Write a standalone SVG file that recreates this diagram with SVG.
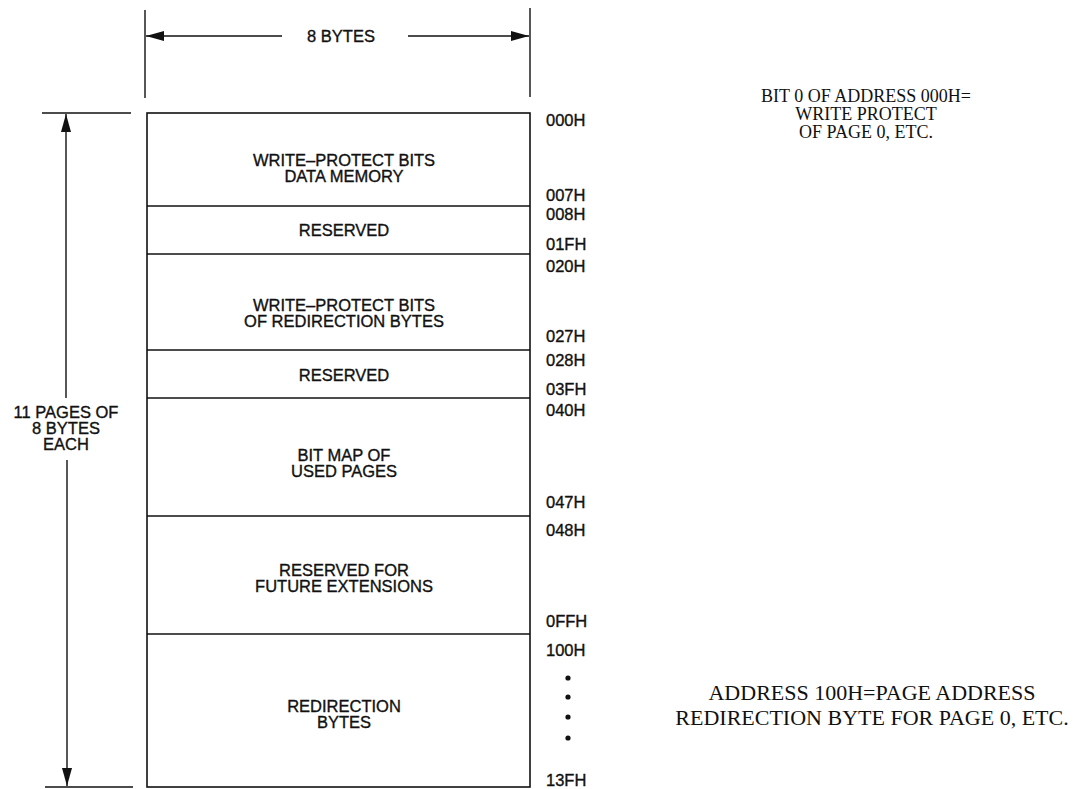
<svg xmlns="http://www.w3.org/2000/svg" width="1089" height="789" viewBox="0 0 1089 789">
<defs>
<style>
.t{font-family:"Liberation Sans",Arial,sans-serif;font-size:16.5px;fill:#111;stroke:#111;stroke-width:0.35;text-anchor:middle}
.a{font-family:"Liberation Sans",Arial,sans-serif;font-size:16.5px;fill:#111;stroke:#111;stroke-width:0.35}
.n{font-family:"Liberation Serif","Times New Roman",serif;fill:#111;text-anchor:middle}
.ln{stroke:#111;stroke-width:1.6;fill:none}
.dim{stroke:#111;stroke-width:1.4;fill:none}
</style>
<marker id="ah" viewBox="0 0 18 10" refX="18" refY="5" markerWidth="18" markerHeight="10" markerUnits="userSpaceOnUse" orient="auto">
<path d="M0,0 L18,5 L0,10 Z" fill="#111"/>
</marker>
</defs>
<rect width="1089" height="789" fill="#fff"/>
<g id="connectors">
<line class="dim" x1="145" y1="10" x2="145" y2="98"/>
<line class="dim" x1="530" y1="8" x2="530" y2="97"/>
<line class="dim" x1="282" y1="36" x2="146" y2="36" marker-end="url(#ah)"/>
<line class="dim" x1="408" y1="36" x2="529" y2="36" marker-end="url(#ah)"/>
<line class="dim" x1="42" y1="113" x2="131" y2="113"/>
<line class="dim" x1="45" y1="787" x2="133" y2="787"/>
<line class="dim" x1="66" y1="398" x2="66" y2="114" marker-end="url(#ah)"/>
<line class="dim" x1="67" y1="460" x2="67" y2="786" marker-end="url(#ah)"/>
</g>
<g id="dim-width-label"><text class="t" x="341" y="42">8 BYTES</text></g>
<g id="dim-height-label">
<text class="t" x="66" y="418">11 PAGES OF</text>
<text class="t" x="66" y="434">8 BYTES</text>
<text class="t" x="66" y="450">EACH</text>
</g>
<g id="memory-map">
<rect class="ln" x="147" y="113" width="383" height="674"/>
<line class="ln" x1="147" y1="206" x2="530" y2="206"/>
<line class="ln" x1="147" y1="254" x2="530" y2="254"/>
<line class="ln" x1="147" y1="350" x2="530" y2="350"/>
<line class="ln" x1="147" y1="398" x2="530" y2="398"/>
<line class="ln" x1="147" y1="516" x2="530" y2="516"/>
<line class="ln" x1="147" y1="634" x2="530" y2="634"/>
</g>
<g id="block-wp-data">
<text class="t" x="344" y="166">WRITE–PROTECT BITS</text>
<text class="t" x="344" y="182">DATA MEMORY</text>
</g>
<g id="block-reserved-1"><text class="t" x="344" y="236">RESERVED</text></g>
<g id="block-wp-redir">
<text class="t" x="344" y="311">WRITE–PROTECT BITS</text>
<text class="t" x="344" y="327">OF REDIRECTION BYTES</text>
</g>
<g id="block-reserved-2"><text class="t" x="344" y="381">RESERVED</text></g>
<g id="block-bitmap">
<text class="t" x="344" y="461">BIT MAP OF</text>
<text class="t" x="344" y="477">USED PAGES</text>
</g>
<g id="block-future">
<text class="t" x="344" y="576">RESERVED FOR</text>
<text class="t" x="344" y="592">FUTURE EXTENSIONS</text>
</g>
<g id="block-redir">
<text class="t" x="344" y="712">REDIRECTION</text>
<text class="t" x="344" y="728">BYTES</text>
</g>
<g id="addresses">
<text class="a" x="546" y="126">000H</text>
<text class="a" x="546" y="201">007H</text>
<text class="a" x="546" y="220">008H</text>
<text class="a" x="546" y="250">01FH</text>
<text class="a" x="546" y="272">020H</text>
<text class="a" x="546" y="342">027H</text>
<text class="a" x="546" y="366">028H</text>
<text class="a" x="546" y="395">03FH</text>
<text class="a" x="546" y="416">040H</text>
<text class="a" x="546" y="508">047H</text>
<text class="a" x="546" y="536">048H</text>
<text class="a" x="546" y="627">0FFH</text>
<text class="a" x="546" y="656">100H</text>
<text class="a" x="546" y="786">13FH</text>
<circle cx="568" cy="678" r="2.6" fill="#111"/>
<circle cx="568" cy="697" r="2.6" fill="#111"/>
<circle cx="568" cy="717" r="2.6" fill="#111"/>
<circle cx="568" cy="738" r="2.6" fill="#111"/>
</g>
<g id="note-top">
<text class="n" x="866" y="102" font-size="18">BIT 0 OF ADDRESS 000H=</text>
<text class="n" x="866" y="120" font-size="18">WRITE PROTECT</text>
<text class="n" x="866" y="138" font-size="18">OF PAGE 0, ETC.</text>
</g>
<g id="note-bottom">
<text class="n" x="872" y="700" font-size="22">ADDRESS 100H=PAGE ADDRESS</text>
<text class="n" x="872" y="725" font-size="22">REDIRECTION BYTE FOR PAGE 0, ETC.</text>
</g>
</svg>
